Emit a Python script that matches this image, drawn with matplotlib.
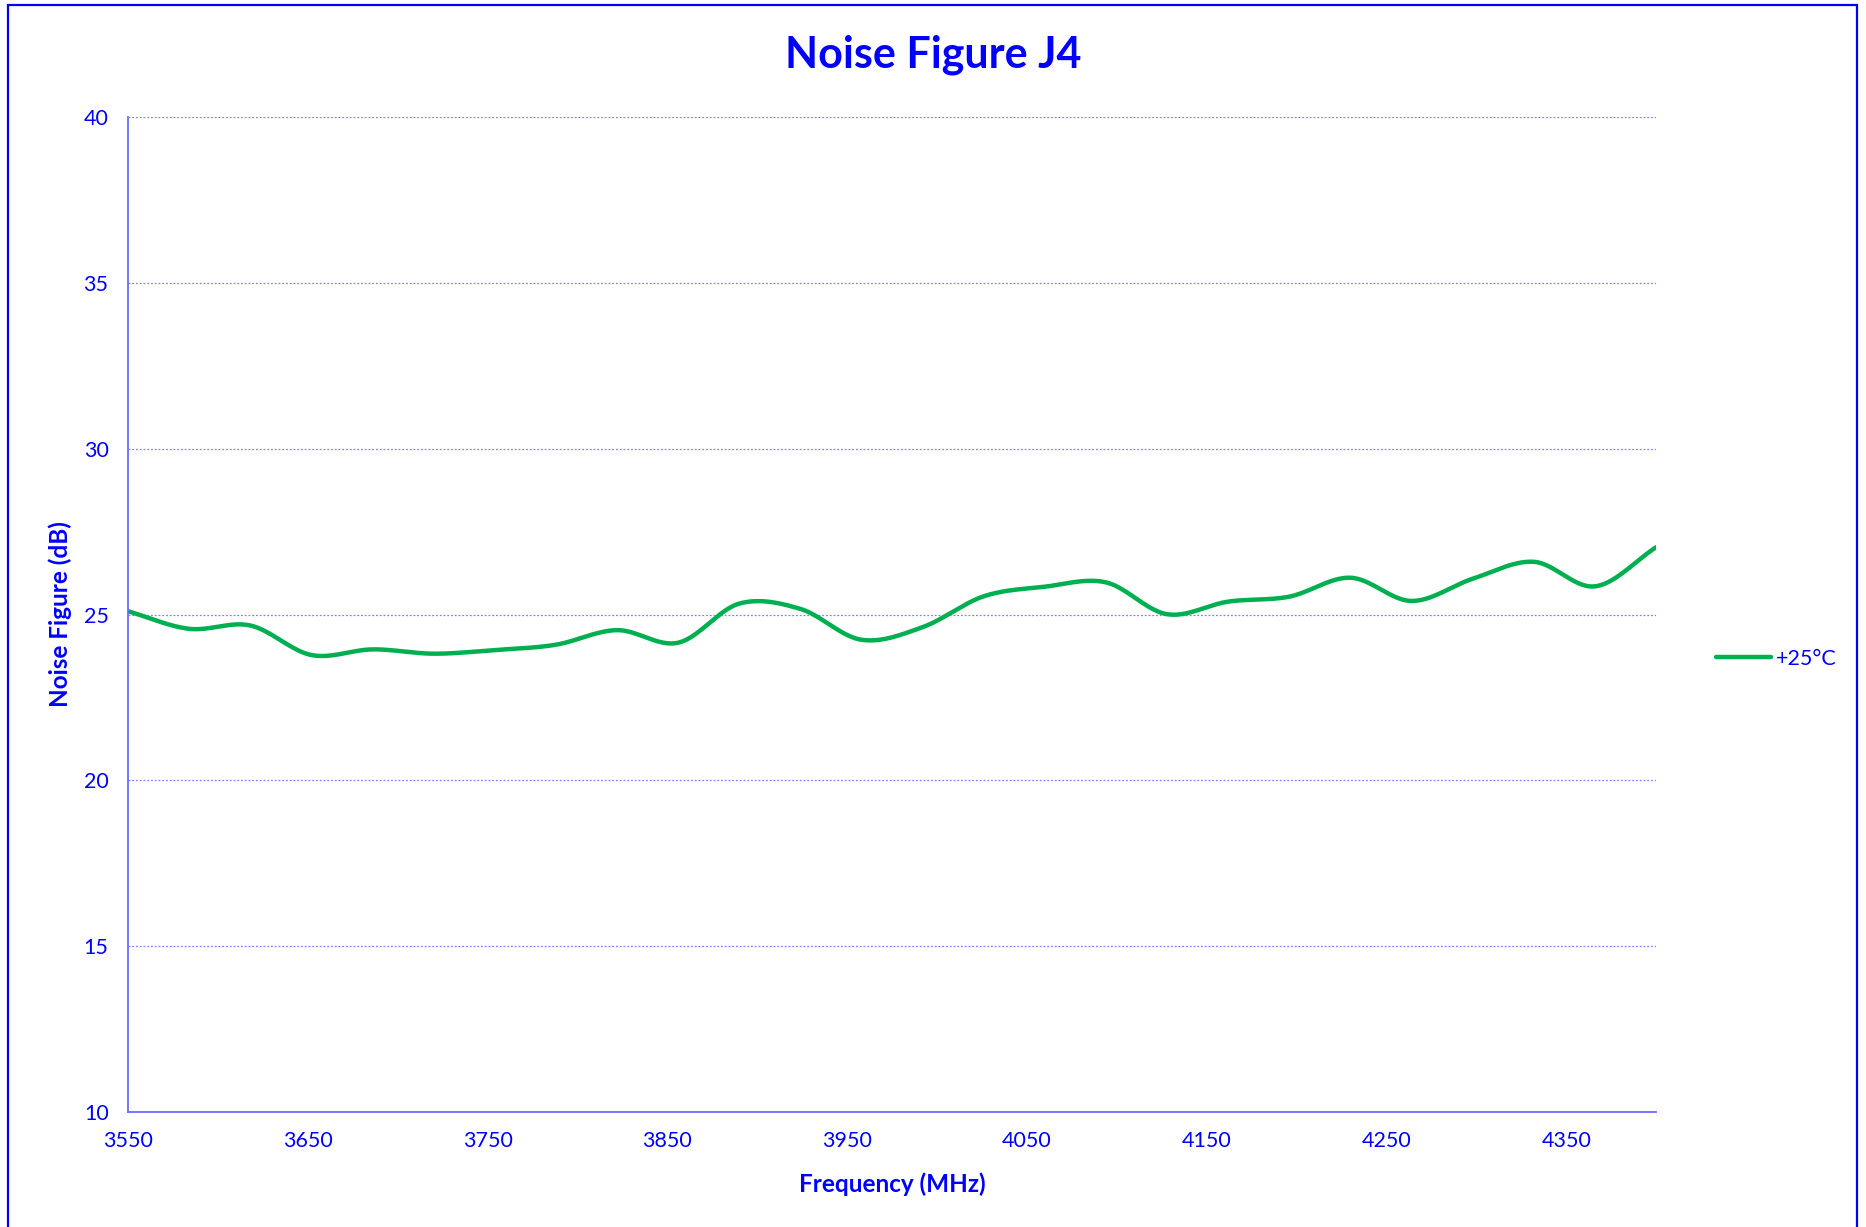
import numpy as np
import matplotlib
matplotlib.use("Agg")
import matplotlib.pyplot as plt
from matplotlib.patches import Rectangle

# values (MHz, dB), one point every 34 MHz
freq = [3550, 3584, 3618, 3652, 3686, 3720, 3754, 3788, 3822, 3856, 3890, 3924, 3958,
        3992, 4026, 4060, 4094, 4128, 4162, 4196, 4230, 4264, 4298, 4332, 4366, 4400]
nf_25c = [25.10, 24.57, 24.67, 23.78, 23.95, 23.82, 23.93, 24.09, 24.53, 24.15,
          25.33, 25.17, 24.24, 24.62, 25.55, 25.84, 25.97, 25.01, 25.39, 25.54,
          26.11, 25.41, 26.08, 26.59, 25.85, 27.03]

x_ticks = [3550, 3650, 3750, 3850, 3950, 4050, 4150, 4250, 4350]
y_ticks = [10, 15, 20, 25, 30, 35, 40]

blue = "#0000FF"
green = "#00B050"

plt.rcParams["font.family"] = ["Lato", "DejaVu Sans"]


def smooth(x, y, n=20):
    # catmull-rom style smoothing, like a spreadsheet "smoothed line"
    x = np.asarray(x, float)
    y = np.asarray(y, float)
    px = np.concatenate([[2 * x[0] - x[1]], x, [2 * x[-1] - x[-2]]])
    py = np.concatenate([[2 * y[0] - y[1]], y, [2 * y[-1] - y[-2]]])
    t = np.linspace(0, 1, n, endpoint=False)
    xs, ys = [], []
    for i in range(1, len(px) - 2):
        for p, out in ((px, xs), (py, ys)):
            p0, p1, p2, p3 = p[i - 1], p[i], p[i + 1], p[i + 2]
            out.extend(0.5 * (2 * p1 + (-p0 + p2) * t
                              + (2 * p0 - 5 * p1 + 4 * p2 - p3) * t ** 2
                              + (-p0 + 3 * p1 - 3 * p2 + p3) * t ** 3))
    xs.append(x[-1])
    ys.append(y[-1])
    return np.array(xs), np.array(ys)


fig = plt.figure(figsize=(18.66, 12.27), dpi=100)
ax = fig.add_axes([0.0686, 0.0937, 0.8189, 0.8109])

sx, sy = smooth(freq, nf_25c)
ax.plot(sx, sy, color=green, lw=3.2, label="+25°C", solid_capstyle="round")

ax.set_xlim(3550, 4400)
ax.set_ylim(10, 40)
ax.set_xticks(x_ticks)
ax.set_yticks(y_ticks)
ax.tick_params(length=0, labelsize=15.5, labelcolor=blue, pad=14)
ax.yaxis.grid(True, color="#8080FF", ls=(0, (1.5, 1.5)), lw=0.9)
ax.set_axisbelow(True)
for s in ("top", "right"):
    ax.spines[s].set_visible(False)
for s in ("left", "bottom"):
    ax.spines[s].set_color("#6B6BFF")
    ax.spines[s].set_linewidth(1.3)

ax.set_xlabel("Frequency (MHz)", fontsize=17.5, fontweight="bold", color=blue, labelpad=15)
ax.set_ylabel("Noise Figure (dB)", fontsize=17.5, fontweight="bold", color=blue, labelpad=8)
fig.text(0.5, 0.955, "Noise Figure J4", ha="center", va="center",
         fontsize=31, fontweight="bold", color=blue)

leg = fig.legend(loc="center left", bbox_to_anchor=(0.9195, 1 - 659 / 1227),
                 frameon=False, fontsize=15.5, handlelength=2.55, handletextpad=0.25,
                 borderaxespad=0, borderpad=0)
for t in leg.get_texts():
    t.set_color(blue)

# outer chart border
fig.patches.append(Rectangle((8 / 1866, -0.01), 1849 / 1866, 1 - 5 / 1227 + 0.01,
                             transform=fig.transFigure, fill=False,
                             edgecolor=blue, lw=1.6))

fig.savefig("out.png", dpi=100)
